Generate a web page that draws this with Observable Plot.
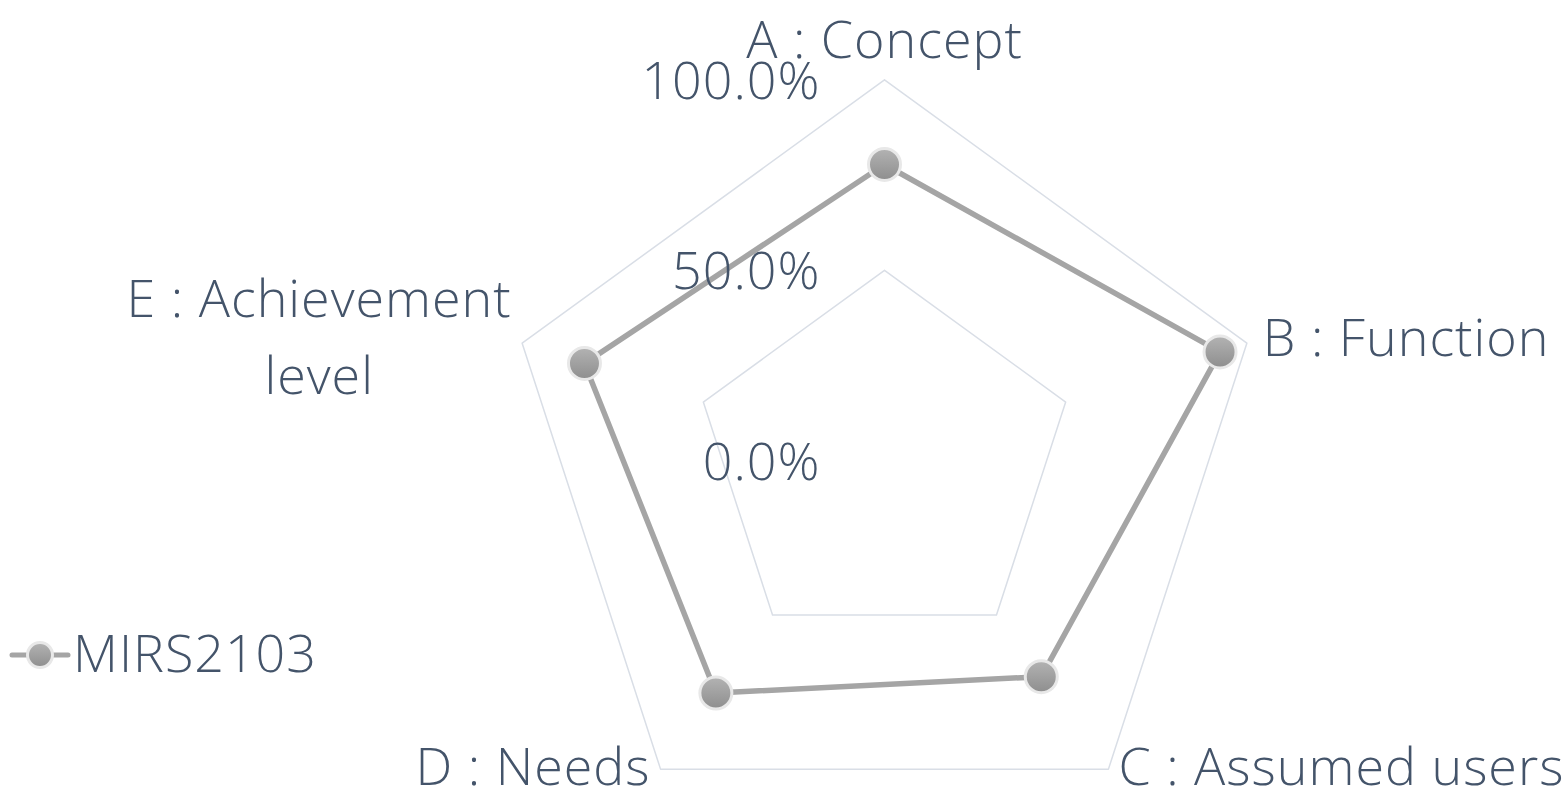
<!DOCTYPE html>
<html>
<head>
<meta charset="utf-8">
<script src="https://cdn.jsdelivr.net/npm/d3@7"></script>
<script src="https://cdn.jsdelivr.net/npm/@observablehq/plot@0.6"></script>
<style>
  body { margin: 0; background: #ffffff; }
  #wrap { position: relative; width: 1567px; height: 801px; overflow: hidden; }
  #legend { position: absolute; left: 0; top: 600px; }
</style>
</head>
<body>
<div id="wrap"></div>
<script>
// ---- data ----
const categories = ["A : Concept", "B : Function", "C : Assumed users", "D : Needs", "E : Achievement\nlevel"];
const values = [0.778, 0.926, 0.700, 0.753, 0.828];
const seriesName = "MIRS2103";
const gridLevels = [0.5, 1.0];
const tickValues = [0, 0.5, 1.0];
const tickLabels = ["0.0%", "50.0%", "100.0%"];

// ---- layout ----
const W = 1567, H = 801;
const CX = 884, CY = 460.4, R = 381;
const textColor = "#44546A";
const lineColor = "#A5A5A5";
const gridColor = "#D9DEE6";
const fontFamily = "'Open Sans', 'Noto Sans', sans-serif";
const fontWeight = 300;
const letterSpacing = "1px";
const fontSize = 52;
const labelLayout = [
  {dx: 0, dy: -22, anchor: "middle"},
  {dx: 16, dy: 13, anchor: "start"},
  {dx: 10, dy: 16, anchor: "start"},
  {dx: -10, dy: 16, anchor: "end"},
  {dx: -203, dy: 51, anchor: "middle"}
];

const n = categories.length;
const angle = i => i * 2 * Math.PI / n;
const px = (v, i) => v * Math.sin(angle(i));
const py = (v, i) => v * Math.cos(angle(i));

const series = values.map((v, i) => ({i, v, x: px(v, i), y: py(v, i)}));
const seriesClosed = series.concat([series[0]]);
const grid = gridLevels.flatMap(l => d3.range(n + 1).map(k => ({level: l, x: px(l, k % n), y: py(l, k % n)})));

const defs = () => {
  const g = d3.create("svg:defs");
  const lg = g.append("linearGradient").attr("id", "mkGrad")
    .attr("x1", 0).attr("y1", 0).attr("x2", 0).attr("y2", 1);
  lg.append("stop").attr("offset", "0%").attr("stop-color", "#b3b3b3");
  lg.append("stop").attr("offset", "100%").attr("stop-color", "#8e8e8e");
  return g.node();
};

const labelMarks = categories.map((c, i) => Plot.text([i], {
  x: d => px(1, d),
  y: d => py(1, d),
  text: d => categories[d],
  textAnchor: labelLayout[i].anchor,
  dx: labelLayout[i].dx,
  dy: labelLayout[i].dy,
  lineAnchor: "bottom",
  lineHeight: 1.48,
  fill: textColor
}));

const chart = Plot.plot({
  width: W,
  height: H,
  margin: 0,
  x: {domain: [-CX / R, (W - CX) / R], range: [0, W], axis: null},
  y: {domain: [-(H - CY) / R, CY / R], range: [H, 0], axis: null},
  style: {fontFamily, fontSize: fontSize + "px", fontWeight, letterSpacing, color: textColor, background: "#ffffff", overflow: "visible"},
  marks: [
    defs,
    Plot.line(grid, {x: "x", y: "y", z: "level", stroke: gridColor, strokeWidth: 1.5}),
    Plot.line(seriesClosed, {x: "x", y: "y", stroke: lineColor, strokeWidth: 5.5, strokeLinejoin: "round"}),
    Plot.text(tickValues, {
      x: 0, y: d => d, text: (d, i) => tickLabels[i],
      textAnchor: "end", dx: -64, dy: 19, lineAnchor: "bottom", fill: textColor
    }),
    Plot.dot(series, {x: "x", y: "y", r: 16, fill: "url(#mkGrad)", stroke: "#E8E8E8", strokeWidth: 3}),
    ...labelMarks
  ]
});

const wrap = document.getElementById("wrap");
wrap.appendChild(chart);

// legend (HTML overlay)
const leg = d3.select(wrap).append("svg")
  .attr("id", "legend").attr("width", 360).attr("height", 110);
const lgd = leg.append("defs").append("linearGradient").attr("id", "lgGrad")
  .attr("x1", 0).attr("y1", 0).attr("x2", 0).attr("y2", 1);
lgd.append("stop").attr("offset", "0%").attr("stop-color", "#b3b3b3");
lgd.append("stop").attr("offset", "100%").attr("stop-color", "#8e8e8e");
leg.append("line").attr("x1", 12).attr("x2", 68).attr("y1", 55).attr("y2", 55)
  .attr("stroke", lineColor).attr("stroke-width", 5).attr("stroke-linecap", "round");
leg.append("circle").attr("cx", 40).attr("cy", 55).attr("r", 12.5)
  .attr("fill", "url(#lgGrad)").attr("stroke", "#E8E8E8").attr("stroke-width", 3);
leg.append("text").attr("x", 73).attr("y", 72)
  .attr("font-family", fontFamily).attr("font-size", fontSize)
  .attr("font-weight", fontWeight).attr("letter-spacing", letterSpacing)
  .attr("fill", textColor).text(seriesName);
</script>
</body>
</html>
